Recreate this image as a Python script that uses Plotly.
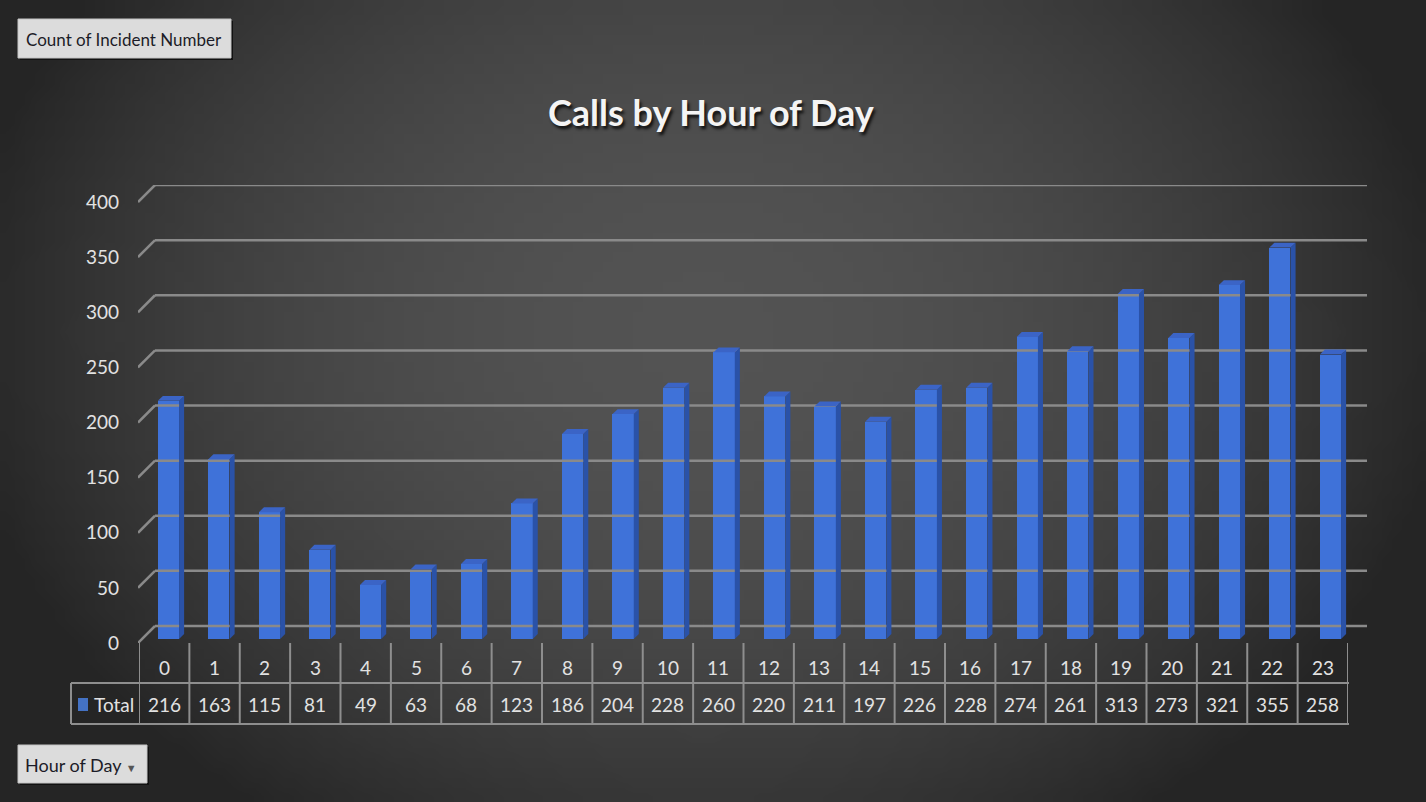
import base64
import struct
import zlib

import plotly.graph_objects as go

# ---------------- data ----------------
hours = list(range(24))
hour_labels = [str(h) for h in hours]
totals = [216, 163, 115, 81, 49, 63, 68, 123, 186, 204, 228, 260,
          220, 211, 197, 226, 228, 274, 261, 313, 273, 321, 355, 258]
y_ticks = [0, 50, 100, 150, 200, 250, 300, 350, 400]
series_name = "Total"
title_text = "Calls by Hour of Day"
value_button = "Count of Incident Number"
axis_button = "Hour of Day"

W, H = 1426, 802
FONT = "Lato, 'Open Sans', sans-serif"


def X(px):
    return px / W


def Y(py):
    return 1 - py / H


# ---------------- background gradient (PNG built in memory) ----------------
def make_bg(w=143, h=81):
    rows = []
    cx, cy = 70.0, 33.0
    rx, ry = 75.0, 60.0
    for j in range(h):
        row = []
        for i in range(w):
            d2 = ((i - cx) / rx) ** 2 + ((j - cy) / ry) ** 2
            t = max(0.0, 1.0 - d2)
            c = int(round(0x25 + (0x53 - 0x25) * t))
            row += [c, c, c]
        rows.append(row)
    raw = b"".join(b"\x00" + bytes(r) for r in rows)

    def chunk(t, d):
        return struct.pack(">I", len(d)) + t + d + struct.pack(">I", zlib.crc32(t + d) & 0xffffffff)

    data = (b"\x89PNG\r\n\x1a\n"
            + chunk(b"IHDR", struct.pack(">IIBBBBB", w, h, 8, 2, 0, 0, 0))
            + chunk(b"IDAT", zlib.compress(raw, 9))
            + chunk(b"IEND", b""))
    return "data:image/png;base64," + base64.b64encode(data).decode()


BAR_W = 0.42
DX = 0.10   # depth of bars (category units)
DY = 4.5    # depth of bars (value units)
FRONT = "#3f72d9"
SIDE = "#2a52a8"
TOP = "#3b64c6"
GRID = "#8a8a8a"
TXT = "#e2e2e2"

# back wall geometry (pixels)
BACK_L, BACK_R = 155, 1367
BACK_0, BACK_400 = 626, 185
DEPTH = 17
xs = (BACK_R - BACK_L) / 24.0
ys = (BACK_0 - BACK_400) / 400.0

fig = go.Figure()
fig.add_trace(go.Bar(x=hours, y=totals, width=BAR_W, marker=dict(color=FRONT, line=dict(width=0)),
                     name=series_name, xaxis="x", yaxis="y", hoverinfo="x+y"))
fig.add_trace(go.Scatter(x=[0], y=[0], xaxis="x2", yaxis="y2", mode="markers",
                         marker=dict(opacity=0), hoverinfo="skip", showlegend=False))
fig.add_trace(go.Scatter(x=[0], y=[0], xaxis="x3", yaxis="y3", mode="markers",
                         marker=dict(opacity=0), hoverinfo="skip", showlegend=False))

shapes = []
for v in y_ticks:
    shapes.append(dict(type="line", xref="x3", yref="y3", x0=-0.5, x1=23.5, y0=v, y1=v,
                       line=dict(color=GRID, width=2.5), layer="below"))
    shapes.append(dict(type="line", xref="x3", yref="y3", xsizemode="pixel", ysizemode="pixel",
                       xanchor=-0.5, yanchor=v, x0=-DEPTH, x1=0, y0=-DEPTH, y1=0,
                       line=dict(color=GRID, width=2.5), layer="below"))

for h, v in zip(hours, totals):
    r = h + BAR_W / 2
    l = h - BAR_W / 2
    shapes.append(dict(type="path", xref="x", yref="y",
                       path=f"M{r},0 L{r + DX},{DY} L{r + DX},{v + DY} L{r},{v} Z",
                       fillcolor=SIDE, line=dict(width=0), layer="above"))
    shapes.append(dict(type="path", xref="x", yref="y",
                       path=f"M{l},{v} L{l + DX},{v + DY} L{r + DX},{v + DY} L{r},{v} Z",
                       fillcolor=TOP, line=dict(width=0), layer="above"))

TL = "#8e8e8e"
for i in range(len(hours) + 1):
    shapes.append(dict(type="line", xref="x2", yref="paper", x0=i - 0.5, x1=i - 0.5,
                       y0=Y(643), y1=Y(724), line=dict(color=TL, width=2)))
for py in (683, 724):
    shapes.append(dict(type="line", xref="paper", yref="paper", x0=X(71), x1=X(1349),
                       y0=Y(py), y1=Y(py), line=dict(color=TL, width=2)))
shapes.append(dict(type="line", xref="paper", yref="paper", x0=X(71), x1=X(71),
                   y0=Y(683), y1=Y(724), line=dict(color=TL, width=2)))
shapes.append(dict(type="rect", xref="paper", yref="paper", x0=X(78), x1=X(88),
                   y0=Y(711), y1=Y(698), fillcolor="#4472c4", line=dict(width=0)))

for (x0, y0, x1, y1) in [(18, 19, 231, 58), (18, 745, 147, 783)]:
    shapes.append(dict(type="rect", xref="paper", yref="paper", x0=X(x0 + 2), x1=X(x1 + 2),
                       y0=Y(y1 + 2), y1=Y(y0 + 2), fillcolor="#111111", line=dict(width=0)))
    shapes.append(dict(type="rect", xref="paper", yref="paper", x0=X(x0), x1=X(x1),
                       y0=Y(y1), y1=Y(y0), fillcolor="#dcdcdc", line=dict(color="#c4c4c4", width=1)))

annotations = []
for h, lab, v in zip(hours, hour_labels, totals):
    annotations.append(dict(x=h, xref="x2", y=Y(667), yref="paper", text=lab, showarrow=False,
                            font=dict(family=FONT, size=19, color=TXT), yanchor="middle"))
    annotations.append(dict(x=h, xref="x2", y=Y(704), yref="paper", text=str(v), showarrow=False,
                            font=dict(family=FONT, size=19, color=TXT), yanchor="middle"))
annotations.append(dict(x=X(92), xref="paper", y=Y(704), yref="paper", text=series_name,
                        showarrow=False, xanchor="left", yanchor="middle",
                        font=dict(family=FONT, size=19, color=TXT)))
annotations.append(dict(x=X(711), xref="paper", y=Y(112), yref="paper", text=title_text,
                        showarrow=False, xanchor="center", yanchor="middle",
                        font=dict(family=FONT, size=36, color="#f4f4f4", weight="bold",
                                  shadow="2px 3px 3px #111111")))
annotations.append(dict(x=X(124), xref="paper", y=Y(39), yref="paper", text=value_button,
                        showarrow=False, xanchor="center", yanchor="middle",
                        font=dict(family=FONT, size=17, color="#1c1c28")))
annotations.append(dict(x=X(23), xref="paper", y=Y(765), yref="paper",
                        text=axis_button + " <span style='font-size:11px;color:#555555'>▼</span>",
                        showarrow=False, xanchor="left", yanchor="middle",
                        font=dict(family=FONT, size=18, color="#1c1c28")))

fig.update_layout(
    width=W, height=H,
    margin=dict(l=0, r=0, t=0, b=0, pad=0, autoexpand=False),
    paper_bgcolor="#262626",
    plot_bgcolor="rgba(0,0,0,0)",
    showlegend=False,
    images=[dict(source=make_bg(), xref="paper", yref="paper", x=0, y=1, sizex=1, sizey=1,
                 xanchor="left", yanchor="top", sizing="stretch", layer="below")],
    xaxis=dict(domain=[X(143.2), X(1355.7)], range=[-0.5, 23.5], visible=False, anchor="y",
               automargin=False),
    yaxis=dict(domain=[Y(639), Y(198)], range=[0, 400], visible=False, anchor="x",
               automargin=False),
    xaxis2=dict(domain=[X(139), X(1348)], range=[-0.5, 23.5], visible=False, anchor="y2",
                automargin=False),
    yaxis2=dict(domain=[Y(643), Y(202)], range=[0, 400], anchor="x2", tickvals=y_ticks,
                showgrid=False, zeroline=False, showline=False, ticks="", automargin=False,
                ticklabelstandoff=19, tickfont=dict(family=FONT, size=19, color=TXT)),
    xaxis3=dict(domain=[X(BACK_L - DEPTH), X(BACK_R)], range=[-0.5 - DEPTH / xs, 23.5],
                visible=False, anchor="y3", automargin=False),
    yaxis3=dict(domain=[Y(BACK_0 + DEPTH), Y(BACK_400)], range=[-DEPTH / ys, 400],
                visible=False, anchor="x3", automargin=False),
    shapes=shapes,
    annotations=annotations,
    bargap=0,
)

fig.write_html(
    "out.html",
    config={"displayModeBar": False},
    post_script="document.body.style.margin='0';document.body.style.overflow='hidden';"
                "document.body.style.background='#262626';",
)
